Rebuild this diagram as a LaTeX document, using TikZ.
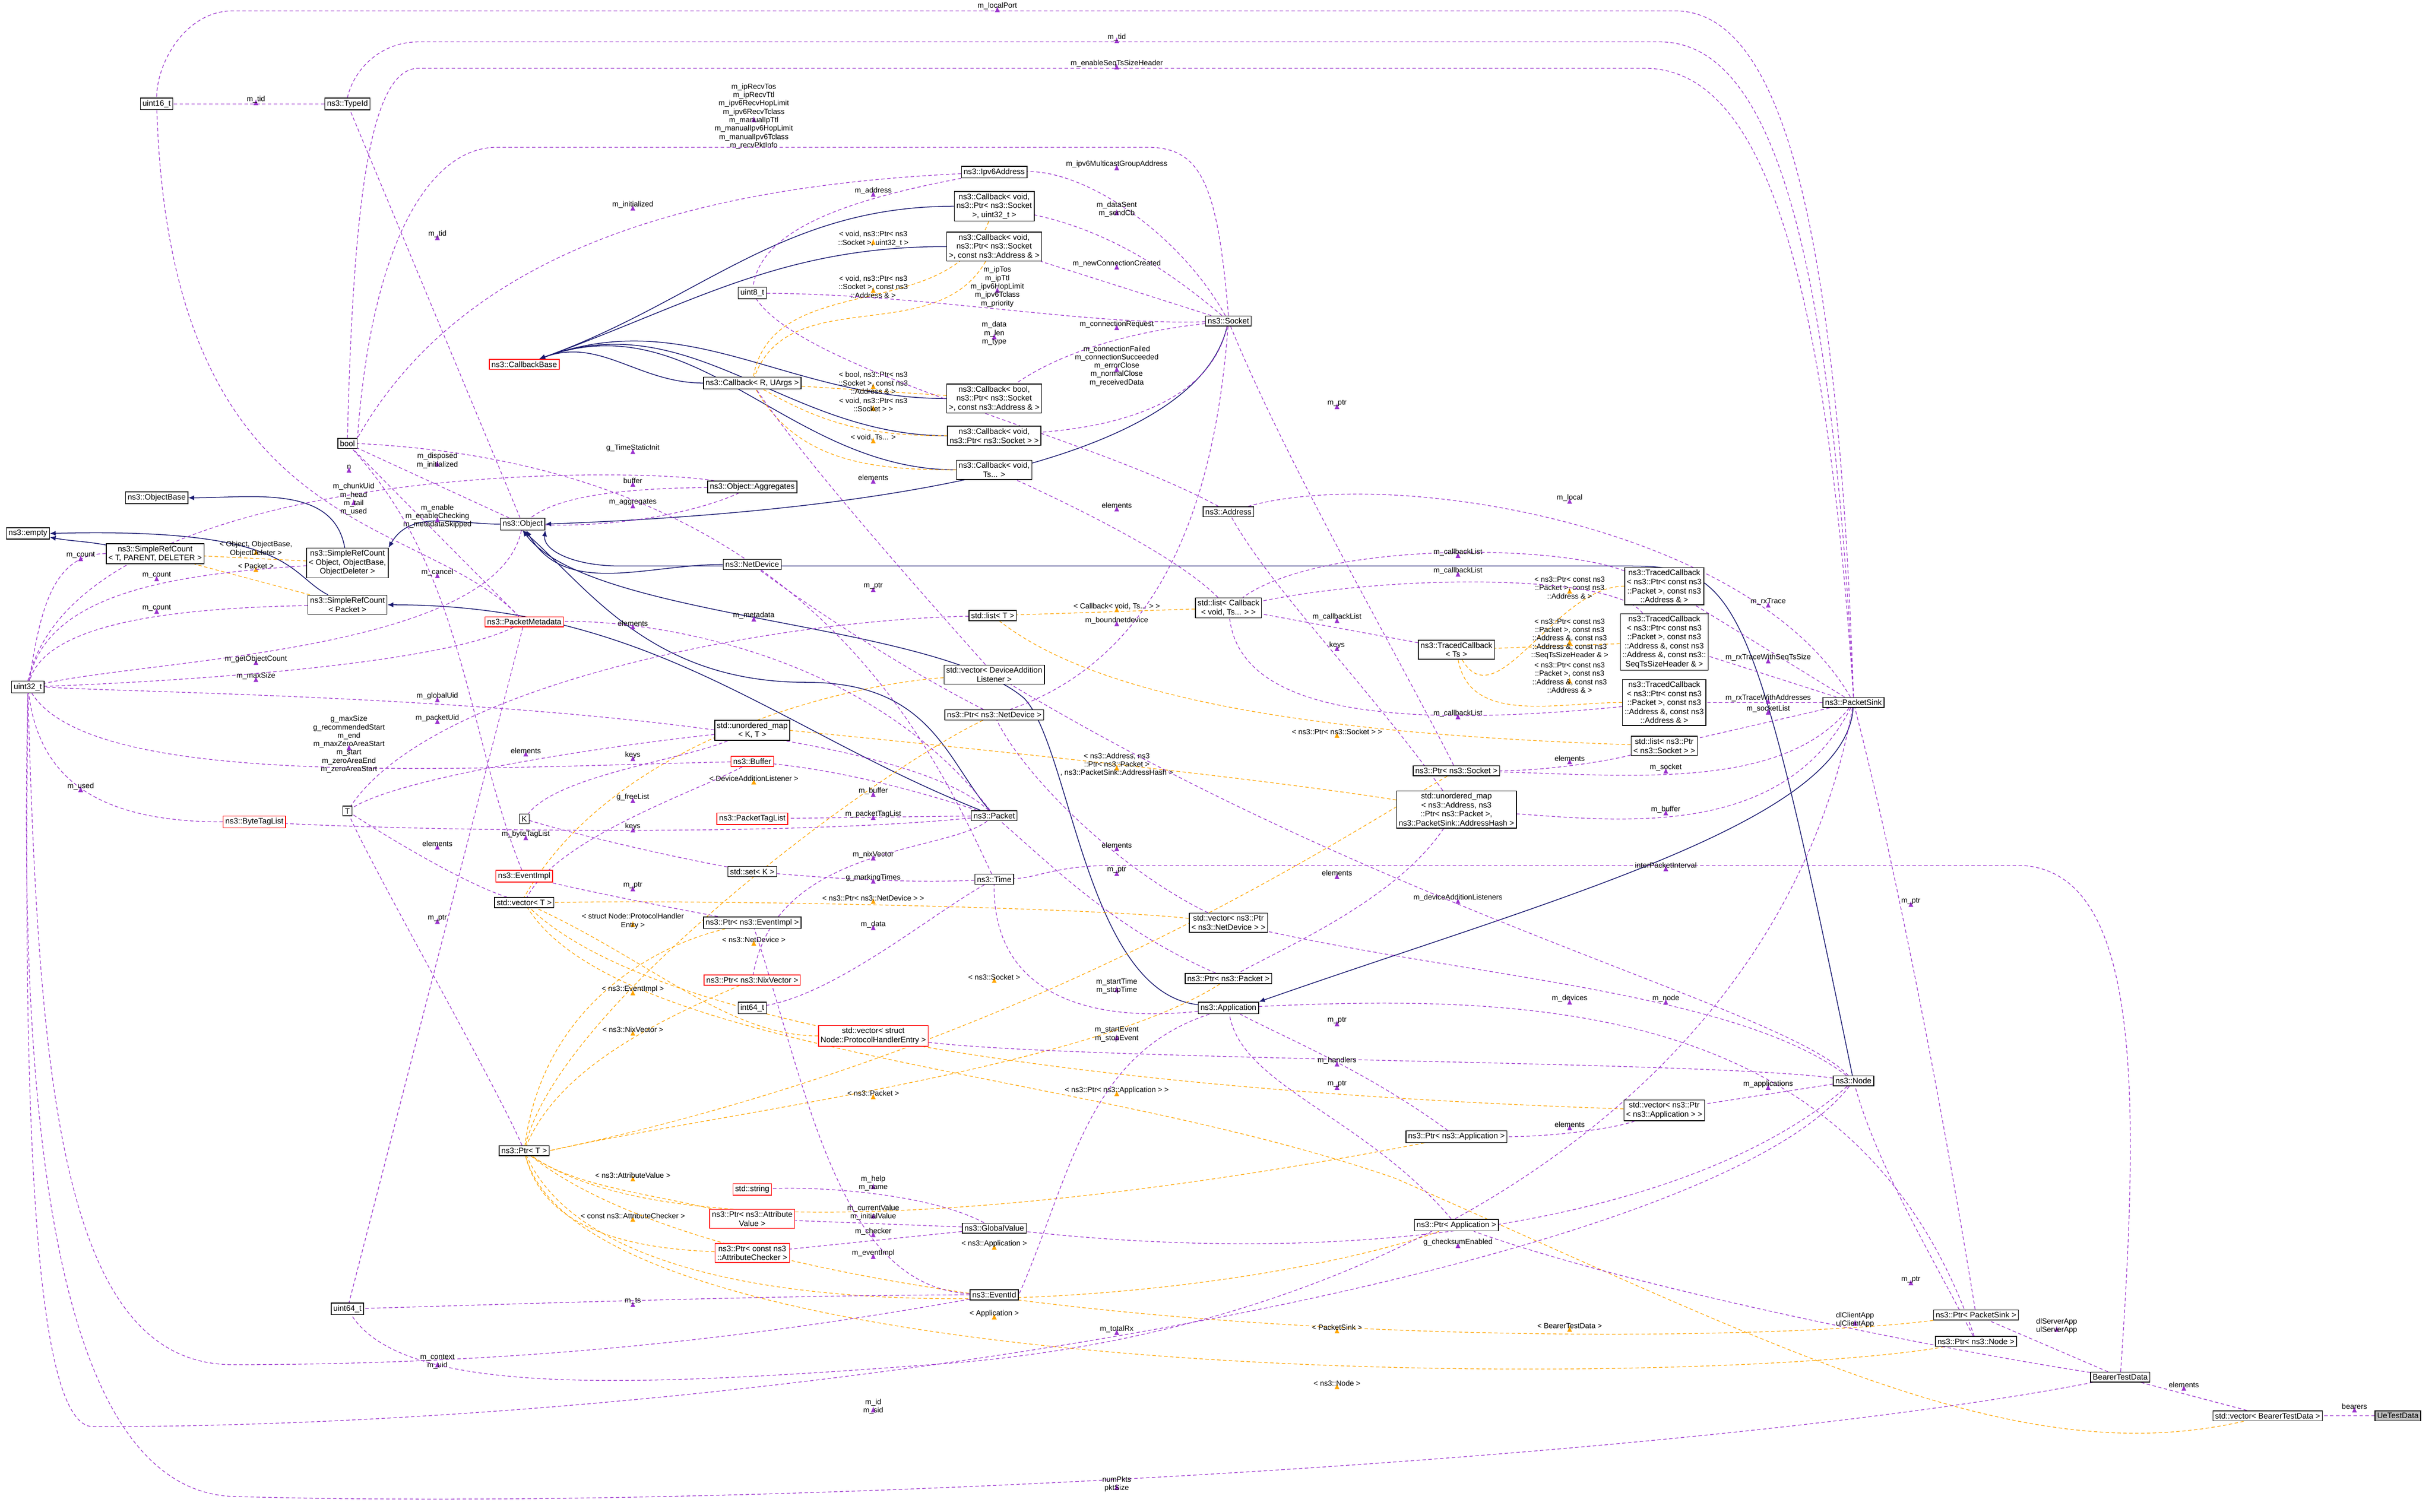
\documentclass[tikz,border=0pt]{standalone}
\usepackage{fontspec}
\setmainfont{Liberation Sans}
\usetikzlibrary{arrows.meta}
\pgfdeclarelayer{bg}
\pgfsetlayers{bg,main}
\definecolor{navyc}{HTML}{191970}
\definecolor{purp}{HTML}{9A32CD}
\definecolor{orng}{HTML}{FFA500}
\newcommand\nfz{\fontsize{5.1}{5.8}\selectfont}
\newcommand\lfz{\fontsize{4.8}{5.4}\selectfont}
\tikzset{
 box/.style={draw=black, fill=white, font=\nfz, align=center, inner sep=1.4pt, line width=0.5pt},
 rbox/.style={box, draw=red},
 inh/.style={draw=navyc, line width=0.5pt, -{Latex[length=3.8pt,width=3.2pt]}},
 use/.style={draw=purp, line width=0.42pt, dash pattern=on 2.2pt off 1.6pt, -{Latex[length=3.8pt,width=3.2pt]}},
 tmpl/.style={draw=orng, line width=0.42pt, dash pattern=on 2.2pt off 1.6pt, -{Latex[length=3.8pt,width=3.2pt]}},
 lbl/.style={font=\lfz, align=center, inner sep=0.3pt, text=black}
}
\begin{document}
\begin{tikzpicture}[x=1pt,y=-1pt]
\useasboundingbox (0,0) rectangle (1568,975);
% nodes
\node[box] (u16) at (101,67) {uint16\_t};
\node[box] (typeid) at (224,67) {ns3::TypeId};
\node[box] (bool) at (224,286) {bool};
\node[box] (empty) at (18,344) {ns3::empty};
\node[box] (objbase) at (101,321) {ns3::ObjectBase};
\node[box] (srcT) at (100,357) {ns3::SimpleRefCount\\< T, PARENT, DELETER >};
\node[box] (srcO) at (224,363) {ns3::SimpleRefCount\\< Object, ObjectBase,\\ ObjectDeleter >};
\node[box] (srcP) at (224,390) {ns3::SimpleRefCount\\< Packet >};
\node[box] (object) at (337,338) {ns3::Object};
\node[box] (u32) at (18,443) {uint32\_t};
\node[rbox] (pmeta) at (338,401) {ns3::PacketMetadata};
\node[rbox] (cbbase) at (338,235) {ns3::CallbackBase};
\node[box] (ipv6) at (641,111) {ns3::Ipv6Address};
\node[box] (cbA) at (641,133) {ns3::Callback< void,\\ ns3::Ptr< ns3::Socket\\ >, uint32\_t >};
\node[box] (cbB) at (641,159) {ns3::Callback< void,\\ ns3::Ptr< ns3::Socket\\ >, const ns3::Address \& >};
\node[box] (u8) at (485,189) {uint8\_t};
\node[box] (cbR) at (485,247) {ns3::Callback< R, UArgs >};
\node[box] (cbBool) at (641,257) {ns3::Callback< bool,\\ ns3::Ptr< ns3::Socket\\ >, const ns3::Address \& >};
\node[box] (cbC) at (641,281) {ns3::Callback< void,\\ ns3::Ptr< ns3::Socket > >};
\node[box] (cbTs) at (641,303) {ns3::Callback< void,\\ Ts... >};
\node[box] (aggr) at (485,314) {ns3::Object::Aggregates};
\node[box] (socket) at (792,207) {ns3::Socket};
\node[box] (address) at (792,330) {ns3::Address};
\node[box] (netdev) at (485,364) {ns3::NetDevice};
\node[box] (listT) at (640,397) {std::list< T >};
\node[box] (listCb) at (792,392) {std::list< Callback\\ < void, Ts... > >};
\node[box] (tcTs) at (939,419) {ns3::TracedCallback\\ < Ts >};
\node[box] (tc1) at (1073,378) {ns3::TracedCallback\\ < ns3::Ptr< const ns3\\ ::Packet >, const ns3\\ ::Address \& >};
\node[box] (tc2) at (1073,414) {ns3::TracedCallback\\ < ns3::Ptr< const ns3\\ ::Packet >, const ns3\\ ::Address \&, const ns3\\ ::Address \&, const ns3::\\ SeqTsSizeHeader \& >};
\node[box] (tc3) at (1073,453) {ns3::TracedCallback\\ < ns3::Ptr< const ns3\\ ::Packet >, const ns3\\ ::Address \&, const ns3\\ ::Address \& >};
\node[box] (vecDAL) at (641,435) {std::vector< DeviceAddition\\ Listener >};
\node[box] (ptrND) at (641,461) {ns3::Ptr< ns3::NetDevice >};
\node[box] (umapKT) at (485,471) {std::unordered\_map\\ < K, T >};
\node[rbox] (buffer) at (485,491) {ns3::Buffer};
\node[rbox] (ptaglist) at (485,528) {ns3::PacketTagList};
\node[box] (packet) at (641,526) {ns3::Packet};
\node[box] (K) at (338,528) {K};
\node[box] (T) at (224,523) {T};
\node[rbox] (btaglist) at (164,530) {ns3::ByteTagList};
\node[box] (setK) at (485,562) {std::set< K >};
\node[box] (time) at (641,567) {ns3::Time};
\node[rbox] (evimpl) at (338,565) {ns3::EventImpl};
\node[box] (vecT) at (338,582) {std::vector< T >};
\node[box] (ptrEI) at (485,595) {ns3::Ptr< ns3::EventImpl >};
\node[rbox] (ptrNix) at (485,632) {ns3::Ptr< ns3::NixVector >};
\node[box] (i64) at (485,650) {int64\_t};
\node[rbox] (vecPHE) at (563,668) {std::vector< struct\\ Node::ProtocolHandlerEntry >};
\node[box] (ptrT) at (338,742) {ns3::Ptr< T >};
\node[rbox] (str) at (485,767) {std::string};
\node[rbox] (ptrAV) at (485,786) {ns3::Ptr< ns3::Attribute\\ Value >};
\node[rbox] (ptrAC) at (485,808) {ns3::Ptr< const ns3\\ ::AttributeChecker >};
\node[box] (gval) at (641,792) {ns3::GlobalValue};
\node[box] (evid) at (641,835) {ns3::EventId};
\node[box] (u64) at (224,844) {uint64\_t};
\node[box] (app) at (792,650) {ns3::Application};
\node[box] (ptrPkt) at (792,631) {ns3::Ptr< ns3::Packet >};
\node[box] (vecND) at (792,595) {std::vector< ns3::Ptr\\ < ns3::NetDevice > >};
\node[box] (umapA) at (939,522) {std::unordered\_map\\ < ns3::Address, ns3\\ ::Ptr< ns3::Packet >,\\ ns3::PacketSink::AddressHash >};
\node[box] (ptrSock) at (939,497) {ns3::Ptr< ns3::Socket >};
\node[box] (listSock) at (1073,481) {std::list< ns3::Ptr\\ < ns3::Socket > >};
\node[box] (sink) at (1195,453) {ns3::PacketSink};
\node[box] (node) at (1195,697) {ns3::Node};
\node[box] (vecApp) at (1073,716) {std::vector< ns3::Ptr\\ < ns3::Application > >};
\node[box] (ptrApp1) at (939,733) {ns3::Ptr< ns3::Application >};
\node[box] (ptrApp2) at (939,790) {ns3::Ptr< Application >};
\node[box] (ptrSink) at (1274,848) {ns3::Ptr< PacketSink >};
\node[box] (ptrNode) at (1274,865) {ns3::Ptr< ns3::Node >};
\node[box] (btd) at (1367,888) {BearerTestData};
\node[box] (vecBTD) at (1462,913) {std::vector< BearerTestData >};
\node[box, fill=black!25] (ue) at (1546,913) {UeTestData};

\begin{pgfonlayer}{bg}
% inheritance
\foreach \s in {cbA,cbB,cbR,cbBool,cbC,cbTs} \draw[inh] (\s) to[out=180,in=20] (cbbase);
\draw[inh] (socket) .. controls (770,300) and (560,330) .. (object.east);
\draw[inh] (node) .. controls (1130,380) and (1120,365) .. (1050,365) -- (400,365) .. controls (370,365) and (350,355) .. (object.south east);
\draw[inh] (netdev) to[out=180,in=-60] (object);
\draw[inh] (packet) .. controls (610,490) and (600,440) .. (520,440) .. controls (420,440) and (380,380) .. (object.south);
\draw[inh] (app) .. controls (700,640) and (690,480) .. (660,450) .. controls (600,400) and (380,400) .. (object.south);
\draw[inh] (sink) .. controls (1190,530) and (1000,580) .. (app.north east);
\draw[inh] (object) to[out=180,in=60] (srcO.north east);
\draw[inh] (srcO) to[out=100,in=0] (objbase);
\draw[inh] (srcP) .. controls (185,370) and (190,340) .. (empty.east);
\draw[inh] (srcT) to[out=170,in=-10] (empty);
\draw[inh] (packet) .. controls (500,470) and (420,390) .. (srcP.east);

% template instantiations
\draw[tmpl] (srcO) -- (srcT) (165,354) node[lbl]{< Object, ObjectBase,\\ ObjectDeleter >};
\draw[tmpl] (srcP) -- (srcT) (165,365) node[lbl]{< Packet >};
\draw[tmpl] (cbA) to[out=-110,in=80] (cbR) (563,154) node[lbl]{< void, ns3::Ptr< ns3\\ ::Socket >, uint32\_t >};
\draw[tmpl] (cbB) to[out=-120,in=70] (cbR) (563,185) node[lbl]{< void, ns3::Ptr< ns3\\ ::Socket >, const ns3\\ ::Address \& >};
\draw[tmpl] (cbBool) -- (cbR) (563,247) node[lbl]{< bool, ns3::Ptr< ns3\\ ::Socket >, const ns3\\ ::Address \& >};
\draw[tmpl] (cbC) to[out=180,in=-30] (cbR) (563,261) node[lbl]{< void, ns3::Ptr< ns3\\ ::Socket > >};
\draw[tmpl] (cbTs) to[out=180,in=-60] (cbR) (563,282) node[lbl]{< void, Ts... >};
\draw[tmpl] (listCb) -- (listT) (720,391) node[lbl]{< Callback< void, Ts... > >};
\draw[tmpl] (vecDAL) .. controls (560,440) and (400,470) .. (vecT.north) (486,502) node[lbl]{< DeviceAdditionListener >};
\draw[tmpl] (umapA) .. controls (800,500) and (600,480) .. (umapKT.east) (720,493) node[lbl]{< ns3::Address, ns3\\ ::Ptr< ns3::Packet >\\ , ns3::PacketSink::AddressHash >};
\draw[tmpl] (vecND) .. controls (700,585) and (450,580) .. (vecT.east) (563,579) node[lbl]{< ns3::Ptr< ns3::NetDevice > >};
\draw[tmpl] (vecPHE) .. controls (470,668) and (420,620) .. (vecT) (408,594) node[lbl]{< struct Node::ProtocolHandler\\ Entry >};
\draw[tmpl] (vecApp) .. controls (900,710) and (450,690) .. (vecT) (720,703) node[lbl]{< ns3::Ptr< ns3::Application > >};
\draw[tmpl] (vecBTD) .. controls (1300,950) and (1150,870) .. (900,760) .. controls (700,690) and (400,680) .. (vecT) (1012,855) node[lbl]{< BearerTestData >};
\draw[tmpl] (ptrEI) .. controls (420,610) and (350,650) .. (ptrT) (408,638) node[lbl]{< ns3::EventImpl >};
\draw[tmpl] (ptrND) .. controls (560,500) and (360,650) .. (ptrT) (486,606) node[lbl]{< ns3::NetDevice >};
\draw[tmpl] (ptrNix) .. controls (420,660) and (360,690) .. (ptrT) (408,664) node[lbl]{< ns3::NixVector >};
\draw[tmpl] (ptrSock) .. controls (850,550) and (650,680) .. (ptrT.east) (641,630) node[lbl]{< ns3::Socket >};
\draw[tmpl] (ptrPkt) .. controls (700,690) and (450,720) .. (ptrT.east) (563,705) node[lbl]{< ns3::Packet >};
\draw[tmpl] (ptrAV) .. controls (420,770) and (370,765) .. (ptrT) (408,758) node[lbl]{< ns3::AttributeValue >};
\draw[tmpl] (ptrAC) .. controls (400,805) and (350,790) .. (ptrT) (408,784) node[lbl]{< const ns3::AttributeChecker >};
\draw[tmpl] (ptrApp1) .. controls (800,760) and (450,820) .. (ptrT) (641,802) node[lbl]{< ns3::Application >};
\draw[tmpl] (ptrApp2) .. controls (800,840) and (400,880) .. (ptrT) (641,847) node[lbl]{< Application >};
\draw[tmpl] (ptrSink) .. controls (1100,870) and (500,870) .. (ptrT) (862,856) node[lbl]{< PacketSink >};
\draw[tmpl] (ptrNode) .. controls (1100,895) and (380,900) .. (ptrT) (862,892) node[lbl]{< ns3::Node >};
\draw[tmpl] (listSock) .. controls (900,475) and (720,460) .. (listT) (862,472) node[lbl]{< ns3::Ptr< ns3::Socket > >};
\draw[tmpl] (tc1) to[out=180,in=-60] (tcTs) (1012,379) node[lbl]{< ns3::Ptr< const ns3\\ ::Packet >, const ns3\\ ::Address \& >};
\draw[tmpl] (tc2) -- (tcTs) (1012,412) node[lbl]{< ns3::Ptr< const ns3\\ ::Packet >, const ns3\\ ::Address \&, const ns3\\ ::Address \&, const ns3\\ ::SeqTsSizeHeader \& >};
\draw[tmpl] (tc3) to[out=180,in=-80] (tcTs) (1012,437) node[lbl]{< ns3::Ptr< const ns3\\ ::Packet >, const ns3\\ ::Address \&, const ns3\\ ::Address \& >};

% usage
\draw[use] (sink.north) .. controls (1185,150) and (1150,7) .. (1080,7) -- (150,7) .. controls (120,7) and (101,40) .. (u16.north) (643,4) node[lbl]{m\_localPort};
\draw[use] (sink.north) .. controls (1180,150) and (1140,27) .. (1070,27) -- (270,27) .. controls (245,27) and (228,45) .. (typeid.north) (720,24) node[lbl]{m\_tid};
\draw[use] (sink.north) .. controls (1175,150) and (1130,44) .. (1060,44) -- (270,44) .. controls (240,44) and (228,120) .. (bool.north) (720,41) node[lbl]{m\_enableSeqTsSizeHeader};
\draw[use] (socket.north) .. controls (785,120) and (775,95) .. (740,95) -- (320,95) .. controls (280,95) and (240,150) .. (bool.north east) (486,75) node[lbl]{m\_ipRecvTos\\ m\_ipRecvTtl\\ m\_ipv6RecvHopLimit\\ m\_ipv6RecvTclass\\ m\_manualIpTtl\\ m\_manualIpv6HopLimit\\ m\_manualIpv6Tclass\\ m\_recvPktInfo};
\draw[use] (typeid) -- (u16) (165,64) node[lbl]{m\_tid};
\draw[use] (object) -- (typeid) (282,151) node[lbl]{m\_tid};
\draw[use] (ipv6) .. controls (450,120) and (300,160) .. (bool.north east) (408,132) node[lbl]{m\_initialized};
\draw[use] (ipv6) .. controls (540,130) and (490,150) .. (u8) (563,123) node[lbl]{m\_address};
\draw[use] (socket) .. controls (760,150) and (700,110) .. (ipv6) (720,106) node[lbl]{m\_ipv6MulticastGroupAddress};
\draw[use] (socket) .. controls (760,180) and (720,150) .. (cbA) (720,135) node[lbl]{m\_dataSent\\ m\_sendCb};
\draw[use] (socket) -- (cbB) (720,170) node[lbl]{m\_newConnectionCreated};
\draw[use] (socket) .. controls (700,210) and (600,190) .. (u8) (643,185) node[lbl]{m\_ipTos\\ m\_ipTtl\\ m\_ipv6HopLimit\\ m\_ipv6Tclass\\ m\_priority};
\draw[use] (socket) .. controls (720,215) and (680,230) .. (cbBool) (720,209) node[lbl]{m\_connectionRequest};
\draw[use] (socket) .. controls (780,260) and (720,275) .. (cbC) (720,236) node[lbl]{m\_connectionFailed\\ m\_connectionSucceeded\\ m\_errorClose\\ m\_normalClose\\ m\_receivedData};
\draw[use] (address) .. controls (700,280) and (520,240) .. (u8) (641,215) node[lbl]{m\_data\\ m\_len\\ m\_type};
\draw[use] (socket) .. controls (785,300) and (760,420) .. (ptrND) (720,400) node[lbl]{m\_boundnetdevice};
\draw[use] (object) -- (bool) (282,297) node[lbl]{m\_disposed\\ m\_initialized};
\draw[use] (aggr) .. controls (400,315) and (360,320) .. (object) (408,310) node[lbl]{buffer};
\draw[use] (object) .. controls (400,340) and (450,330) .. (aggr) (408,324) node[lbl]{m\_aggregates};
\draw[use] (aggr) .. controls (400,300) and (50,300) .. (u32.north) (225,301) node[lbl]{n};
\draw[use] (time) .. controls (600,480) and (520,300) .. (bool.east) (408,289) node[lbl]{g\_TimeStaticInit};
\draw[use] (pmeta) -- (bool) (282,333) node[lbl]{m\_enable\\ m\_enableChecking\\ m\_metadataSkipped};
\draw[use] (pmeta) .. controls (270,330) and (110,350) .. (u16) (228,322) node[lbl]{m\_chunkUid\\ m\_head\\ m\_tail\\ m\_used};
\draw[use] (pmeta) -- (u64) (282,463) node[lbl]{m\_packetUid};
\draw[use] (pmeta) .. controls (280,430) and (100,440) .. (u32) (165,436) node[lbl]{m\_maxSize};
\draw[use] (object) .. controls (320,420) and (100,425) .. (u32) (165,425) node[lbl]{m\_getObjectCount};
\draw[use] (packet) .. controls (560,450) and (100,448) .. (u32.east) (282,449) node[lbl]{m\_globalUid};
\draw[use] (buffer) .. controls (300,495) and (60,510) .. (u32) (225,480) node[lbl]{g\_maxSize\\ g\_recommendedStart\\ m\_end\\ m\_maxZeroAreaStart\\ m\_start\\ m\_zeroAreaEnd\\ m\_zeroAreaStart};
\draw[use] (srcT) to[out=180,in=80] (u32) (52,358) node[lbl]{m\_count};
\draw[use] (srcO) .. controls (120,370) and (30,380) .. (u32) (101,371) node[lbl]{m\_count};
\draw[use] (srcP) .. controls (120,392) and (30,400) .. (u32) (101,392) node[lbl]{m\_count};
\draw[use] (btaglist) .. controls (60,530) and (25,500) .. (u32) (52,507) node[lbl]{m\_used};
\draw[use] (evimpl) .. controls (300,470) and (300,370) .. (bool) (282,369) node[lbl]{m\_cancel};
\draw[use] (ptrND) .. controls (580,430) and (520,390) .. (netdev) (563,378) node[lbl]{m\_ptr};
\draw[use] (listT) .. controls (500,400) and (280,440) .. (T) (408,402) node[lbl]{elements};
\draw[use] (packet) .. controls (560,420) and (420,400) .. (pmeta) (486,397) node[lbl]{m\_metadata};
\draw[use] (packet) .. controls (560,500) and (520,495) .. (buffer) (563,510) node[lbl]{m\_buffer};
\draw[use] (packet) -- (ptaglist) (563,525) node[lbl]{m\_packetTagList};
\draw[use] (packet) .. controls (500,540) and (260,535) .. (btaglist) (339,538) node[lbl]{m\_byteTagList};
\draw[use] (packet) .. controls (610,550) and (500,545) .. (ptrNix) (563,551) node[lbl]{m\_nixVector};
\draw[use] (umapKT) .. controls (400,480) and (260,500) .. (T) (339,484) node[lbl]{elements};
\draw[use] (umapKT) .. controls (440,490) and (360,500) .. (K) (408,487) node[lbl]{keys};
\draw[use] (setK) .. controls (420,550) and (360,535) .. (K) (408,533) node[lbl]{keys};
\draw[use] (vecT) .. controls (300,570) and (250,540) .. (T) (282,544) node[lbl]{elements};
\draw[use] (ptrT) .. controls (320,700) and (240,560) .. (T) (282,592) node[lbl]{m\_ptr};
\draw[use] (buffer) .. controls (450,510) and (360,540) .. (vecT) (408,514) node[lbl]{g\_freeList};
\draw[use] (time) .. controls (580,570) and (520,565) .. (setK) (563,566) node[lbl]{g\_markingTimes};
\draw[use] (time) .. controls (600,590) and (540,640) .. (i64) (563,596) node[lbl]{m\_data};
\draw[use] (ptrEI) .. controls (430,585) and (380,575) .. (evimpl) (408,571) node[lbl]{m\_ptr};
\draw[use] (gval) .. controls (600,770) and (530,765) .. (str) (563,763) node[lbl]{m\_help\\ m\_name};
\draw[use] (gval) -- (ptrAV) (563,782) node[lbl]{m\_currentValue\\ m\_initialValue};
\draw[use] (gval) -- (ptrAC) (563,794) node[lbl]{m\_checker};
\draw[use] (evid) .. controls (540,830) and (520,700) .. (ptrEI) (563,808) node[lbl]{m\_eventImpl};
\draw[use] (evid) .. controls (500,835) and (300,842) .. (u64) (408,839) node[lbl]{m\_ts};
\draw[use] (evid) .. controls (500,860) and (350,880) .. (150,880) .. controls (40,880) and (25,700) .. (u32.south) (282,878) node[lbl]{m\_context\\ m\_uid};
\draw[use] (app) .. controls (700,660) and (640,640) .. (time) (720,636) node[lbl]{m\_startTime\\ m\_stopTime};
\draw[use] (app) .. controls (700,680) and (690,760) .. (evid.east) (720,667) node[lbl]{m\_startEvent\\ m\_stopEvent};
\draw[use] (vecDAL) .. controls (610,400) and (520,300) .. (cbR) (563,308) node[lbl]{elements};
\draw[use] (listCb) .. controls (760,360) and (700,330) .. (cbTs) (720,326) node[lbl]{elements};
\draw[use] (vecND) .. controls (720,560) and (660,500) .. (ptrND) (720,545) node[lbl]{elements};
\draw[use] (ptrPkt) .. controls (720,600) and (680,560) .. (packet) (720,561) node[lbl]{m\_ptr};
\draw[use] (ptrSock) .. controls (900,420) and (830,300) .. (socket) (862,260) node[lbl]{m\_ptr};
\draw[use] (sink) .. controls (1130,340) and (900,300) .. (address) (1012,321) node[lbl]{m\_local};
\draw[use] (tc1) .. controls (1000,350) and (850,350) .. (listCb) (940,356) node[lbl]{m\_callbackList};
\draw[use] (tc2) .. controls (1040,370) and (900,370) .. (listCb) (940,368) node[lbl]{m\_callbackList};
\draw[use] (tcTs) -- (listCb) (862,398) node[lbl]{m\_callbackList};
\draw[use] (tc3) .. controls (900,470) and (800,460) .. (listCb) (940,460) node[lbl]{m\_callbackList};
\draw[use] (umapA) .. controls (880,440) and (820,380) .. (address) (862,416) node[lbl]{keys};
\draw[use] (sink) -- (tc1) (1140,388) node[lbl]{m\_rxTrace};
\draw[use] (sink) -- (tc2) (1140,424) node[lbl]{m\_rxTraceWithSeqTsSize};
\draw[use] (sink) -- (tc3) (1140,450) node[lbl]{m\_rxTraceWithAddresses};
\draw[use] (sink) -- (listSock) (1140,457) node[lbl]{m\_socketList};
\draw[use] (listSock) .. controls (1040,490) and (1000,497) .. (ptrSock) (1012,489) node[lbl]{elements};
\draw[use] (sink) .. controls (1150,510) and (1050,500) .. (ptrSock) (1074,495) node[lbl]{m\_socket};
\draw[use] (sink) .. controls (1150,540) and (1050,530) .. (umapA) (1074,522) node[lbl]{m\_buffer};
\draw[use] (umapA) .. controls (900,580) and (830,610) .. (ptrPkt) (862,563) node[lbl]{elements};
\draw[use] (btd) .. controls (1380,700) and (1380,558) .. (1300,558) -- (720,558) .. controls (680,558) and (670,566) .. (time) (1074,558) node[lbl]{interPacketInterval};
\draw[use] (node) .. controls (1150,650) and (900,590) .. (vecDAL) (940,579) node[lbl]{m\_deviceAdditionListeners};
\draw[use] (ptrSink) .. controls (1250,700) and (1220,550) .. (sink) (1232,581) node[lbl]{m\_ptr};
\draw[use] (node) .. controls (1120,640) and (950,630) .. (vecND) (1012,644) node[lbl]{m\_devices};
\draw[use] (app) .. controls (1000,640) and (1200,650) .. (ptrNode) (1074,644) node[lbl]{m\_node};
\draw[use] (ptrApp1) .. controls (880,690) and (830,670) .. (app) (862,658) node[lbl]{m\_ptr};
\draw[use] (node) .. controls (1100,684) and (700,684) .. (vecPHE) (862,684) node[lbl]{m\_handlers};
\draw[use] (ptrApp2) .. controls (880,720) and (800,700) .. (app) (862,699) node[lbl]{m\_ptr};
\draw[use] (node) -- (vecApp) (1140,699) node[lbl]{m\_applications};
\draw[use] (vecApp) .. controls (1040,728) and (1000,733) .. (ptrApp1) (1012,725) node[lbl]{elements};
\draw[use] (node) .. controls (1100,780) and (900,820) .. (gval) (940,801) node[lbl]{g\_checksumEnabled};
\draw[use] (ptrNode) .. controls (1240,800) and (1210,750) .. (node) (1232,825) node[lbl]{m\_ptr};
\draw[use] (btd) .. controls (1250,870) and (1050,830) .. (ptrApp2) (1196,851) node[lbl]{dlClientApp\\ ulClientApp};
\draw[use] (btd) -- (ptrSink) (1326,855) node[lbl]{dlServerApp\\ ulServerApp};
\draw[use] (vecBTD) -- (btd) (1408,893) node[lbl]{elements};
\draw[use] (ue) -- (vecBTD) (1518,907) node[lbl]{bearers};
\draw[use] (sink) .. controls (1150,700) and (900,860) .. (600,880) .. controls (400,895) and (260,900) .. (u64) (720,857) node[lbl]{m\_totalRx};
\draw[use] (node) .. controls (1100,820) and (500,920) .. (60,920) .. controls (20,920) and (15,700) .. (u32.south) (563,907) node[lbl]{m\_id\\ m\_sid};
\draw[use] (btd) .. controls (1100,940) and (500,975) .. (150,965) .. controls (30,960) and (12,700) .. (u32.south) (720,957) node[lbl]{numPkts\\ pktSize};
\end{pgfonlayer}
\end{tikzpicture}
\end{document}
